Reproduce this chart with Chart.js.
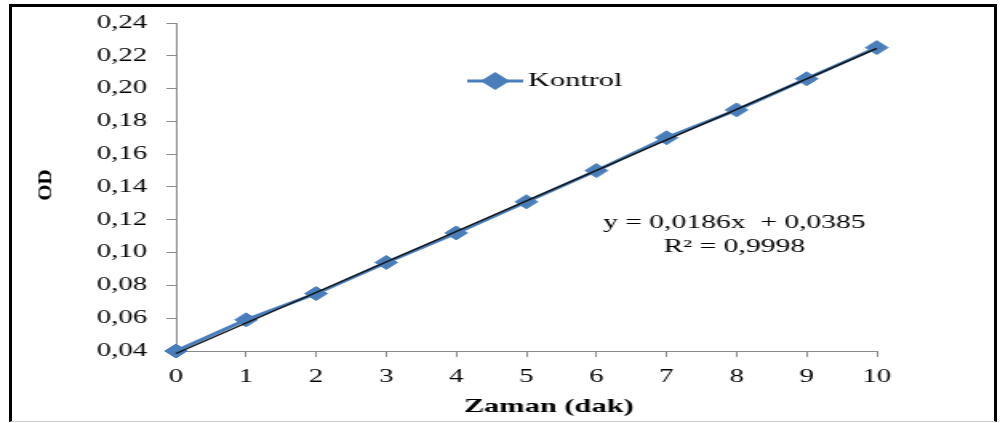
<!DOCTYPE html>
<html>
<head>
<meta charset="utf-8">
<script src="https://cdn.jsdelivr.net/npm/chart.js@4/dist/chart.umd.min.js"></script>
<style>
  html, body { margin: 0; padding: 0; background: #fff; }
  body { width: 1003px; height: 423px; position: relative; overflow: hidden; }
  /* the chart is laid out narrow and widened to the page width */
  #wrap { position: absolute; left: 0; top: 0; width: 627px; height: 423px;
          transform: scaleX(1.6); transform-origin: 0 0; z-index: 1; }
  #frame { position: absolute; left: 9px; top: 4px; width: 982px; height: 414px;
           border-top: 3px solid #000; border-left: 3px solid #000; border-right: 3px solid #000;
           border-bottom: 1px solid #cfcfcf; z-index: 2; pointer-events: none; }
</style>
</head>
<body>
<div id="wrap"><canvas id="c"></canvas></div>
<div id="frame"></div>
<script>
// Kontrol: OD readings over time (minutes)
const minutes = [0, 1, 2, 3, 4, 5, 6, 7, 8, 9, 10];
const kontrolOD = [0.040, 0.059, 0.075, 0.094, 0.112, 0.131, 0.150, 0.170, 0.187, 0.206, 0.225];
// linear fit reported on the chart
const trendSlope = 0.0186;
const trendIntercept = 0.0385;
const trendR2 = 0.9998;
const yTicks = [0.04, 0.06, 0.08, 0.10, 0.12, 0.14, 0.16, 0.18, 0.20, 0.22, 0.24];

const S = 1.6;              // horizontal widening applied by CSS
const BLUE = '#4a7ebb';
const SERIF = '"Liberation Serif", "Times New Roman", serif';
const comma = (v, d) => v.toFixed(d).replace('.', ',');

const trendPts = [minutes[0], minutes[minutes.length - 1]].map(x => ({ x, y: trendIntercept + trendSlope * x }));

const overlay = {
  id: 'overlay',
  afterDraw(chart) {
    const ctx = chart.ctx;
    ctx.save();
    // legend: line with diamond marker
    const ly = 81;
    ctx.strokeStyle = BLUE;
    ctx.lineWidth = 3;
    ctx.beginPath();
    ctx.moveTo(292, ly);
    ctx.lineTo(327, ly);
    ctx.stroke();
    ctx.fillStyle = BLUE;
    Chart.helpers.drawPoint(ctx, { pointStyle: 'rectRot', radius: 7, borderWidth: 1, rotation: 0 }, 309.5, ly);
    ctx.fillStyle = '#000';
    ctx.textBaseline = 'middle';
    ctx.textAlign = 'left';
    ctx.font = '19px ' + SERIF;
    ctx.fillText('Kontrol', 330, ly);

    // regression equation
    ctx.textAlign = 'center';
    ctx.font = '18.5px ' + SERIF;
    ctx.fillText('y = ' + comma(trendSlope, 4) + 'x  + ' + comma(trendIntercept, 4), 459, 223);
    ctx.fillText('R² = ' + comma(trendR2, 4), 459, 247);

    // axis titles
    ctx.font = 'bold 19px ' + SERIF;
    ctx.fillText('Zaman (dak)', 343, 407);
    ctx.scale(1 / S, 1);
    ctx.translate(46, 185);
    ctx.rotate(-Math.PI / 2);
    ctx.font = 'bold 21px ' + SERIF;
    ctx.fillText('OD', 0, 0);
    ctx.restore();
  }
};

new Chart(document.getElementById('c'), {
  type: 'scatter',
  data: {
    datasets: [
      {
        label: 'Trend',
        data: trendPts,
        showLine: true,
        borderColor: '#111',
        borderWidth: 1.4,
        pointRadius: 0,
        clip: false,
        fill: false
      },
      {
        label: 'Kontrol',
        data: minutes.map((m, i) => ({ x: m, y: kontrolOD[i] })),
        showLine: true,
        borderColor: BLUE,
        borderWidth: 3,
        backgroundColor: BLUE,
        pointStyle: 'rectRot',
        pointRadius: 7,
        pointBorderWidth: 1,
        pointBorderColor: BLUE,
        pointBackgroundColor: BLUE,
        clip: false,
        fill: false
      }
    ]
  },
  options: {
    responsive: true,
    maintainAspectRatio: false,
    devicePixelRatio: 1,
    animation: false,
    events: [],
    layout: { padding: { top: 23, left: 0, right: 79, bottom: 0 } },
    plugins: { legend: { display: false }, tooltip: { enabled: false } },
    scales: {
      x: {
        type: 'linear',
        min: 0, max: 10,
        afterFit(scale) { scale.height = 72; },
        grid: { drawOnChartArea: false, drawTicks: true, tickLength: 6, color: '#8a8a8a', lineWidth: 1 },
        border: { display: true, color: '#8a8a8a', width: 1 },
        ticks: { stepSize: 1, autoSkip: false, maxRotation: 0, padding: 9, color: '#000',
                 font: { family: SERIF, size: 18 } }
      },
      y: {
        type: 'linear',
        min: yTicks[0], max: yTicks[yTicks.length - 1],
        afterFit(scale) { scale.width = 110; },
        afterBuildTicks(scale) { scale.ticks = yTicks.map(v => ({ value: v })); },
        grid: { drawOnChartArea: false, drawTicks: true, tickLength: 6, color: '#8a8a8a', lineWidth: 1 },
        border: { display: true, color: '#8a8a8a', width: 1 },
        ticks: { autoSkip: false, padding: 12, color: '#000',
                 font: { family: SERIF, size: 18 },
                 callback: v => comma(v, 2) }
      }
    }
  },
  plugins: [overlay]
});
</script>
</body>
</html>
